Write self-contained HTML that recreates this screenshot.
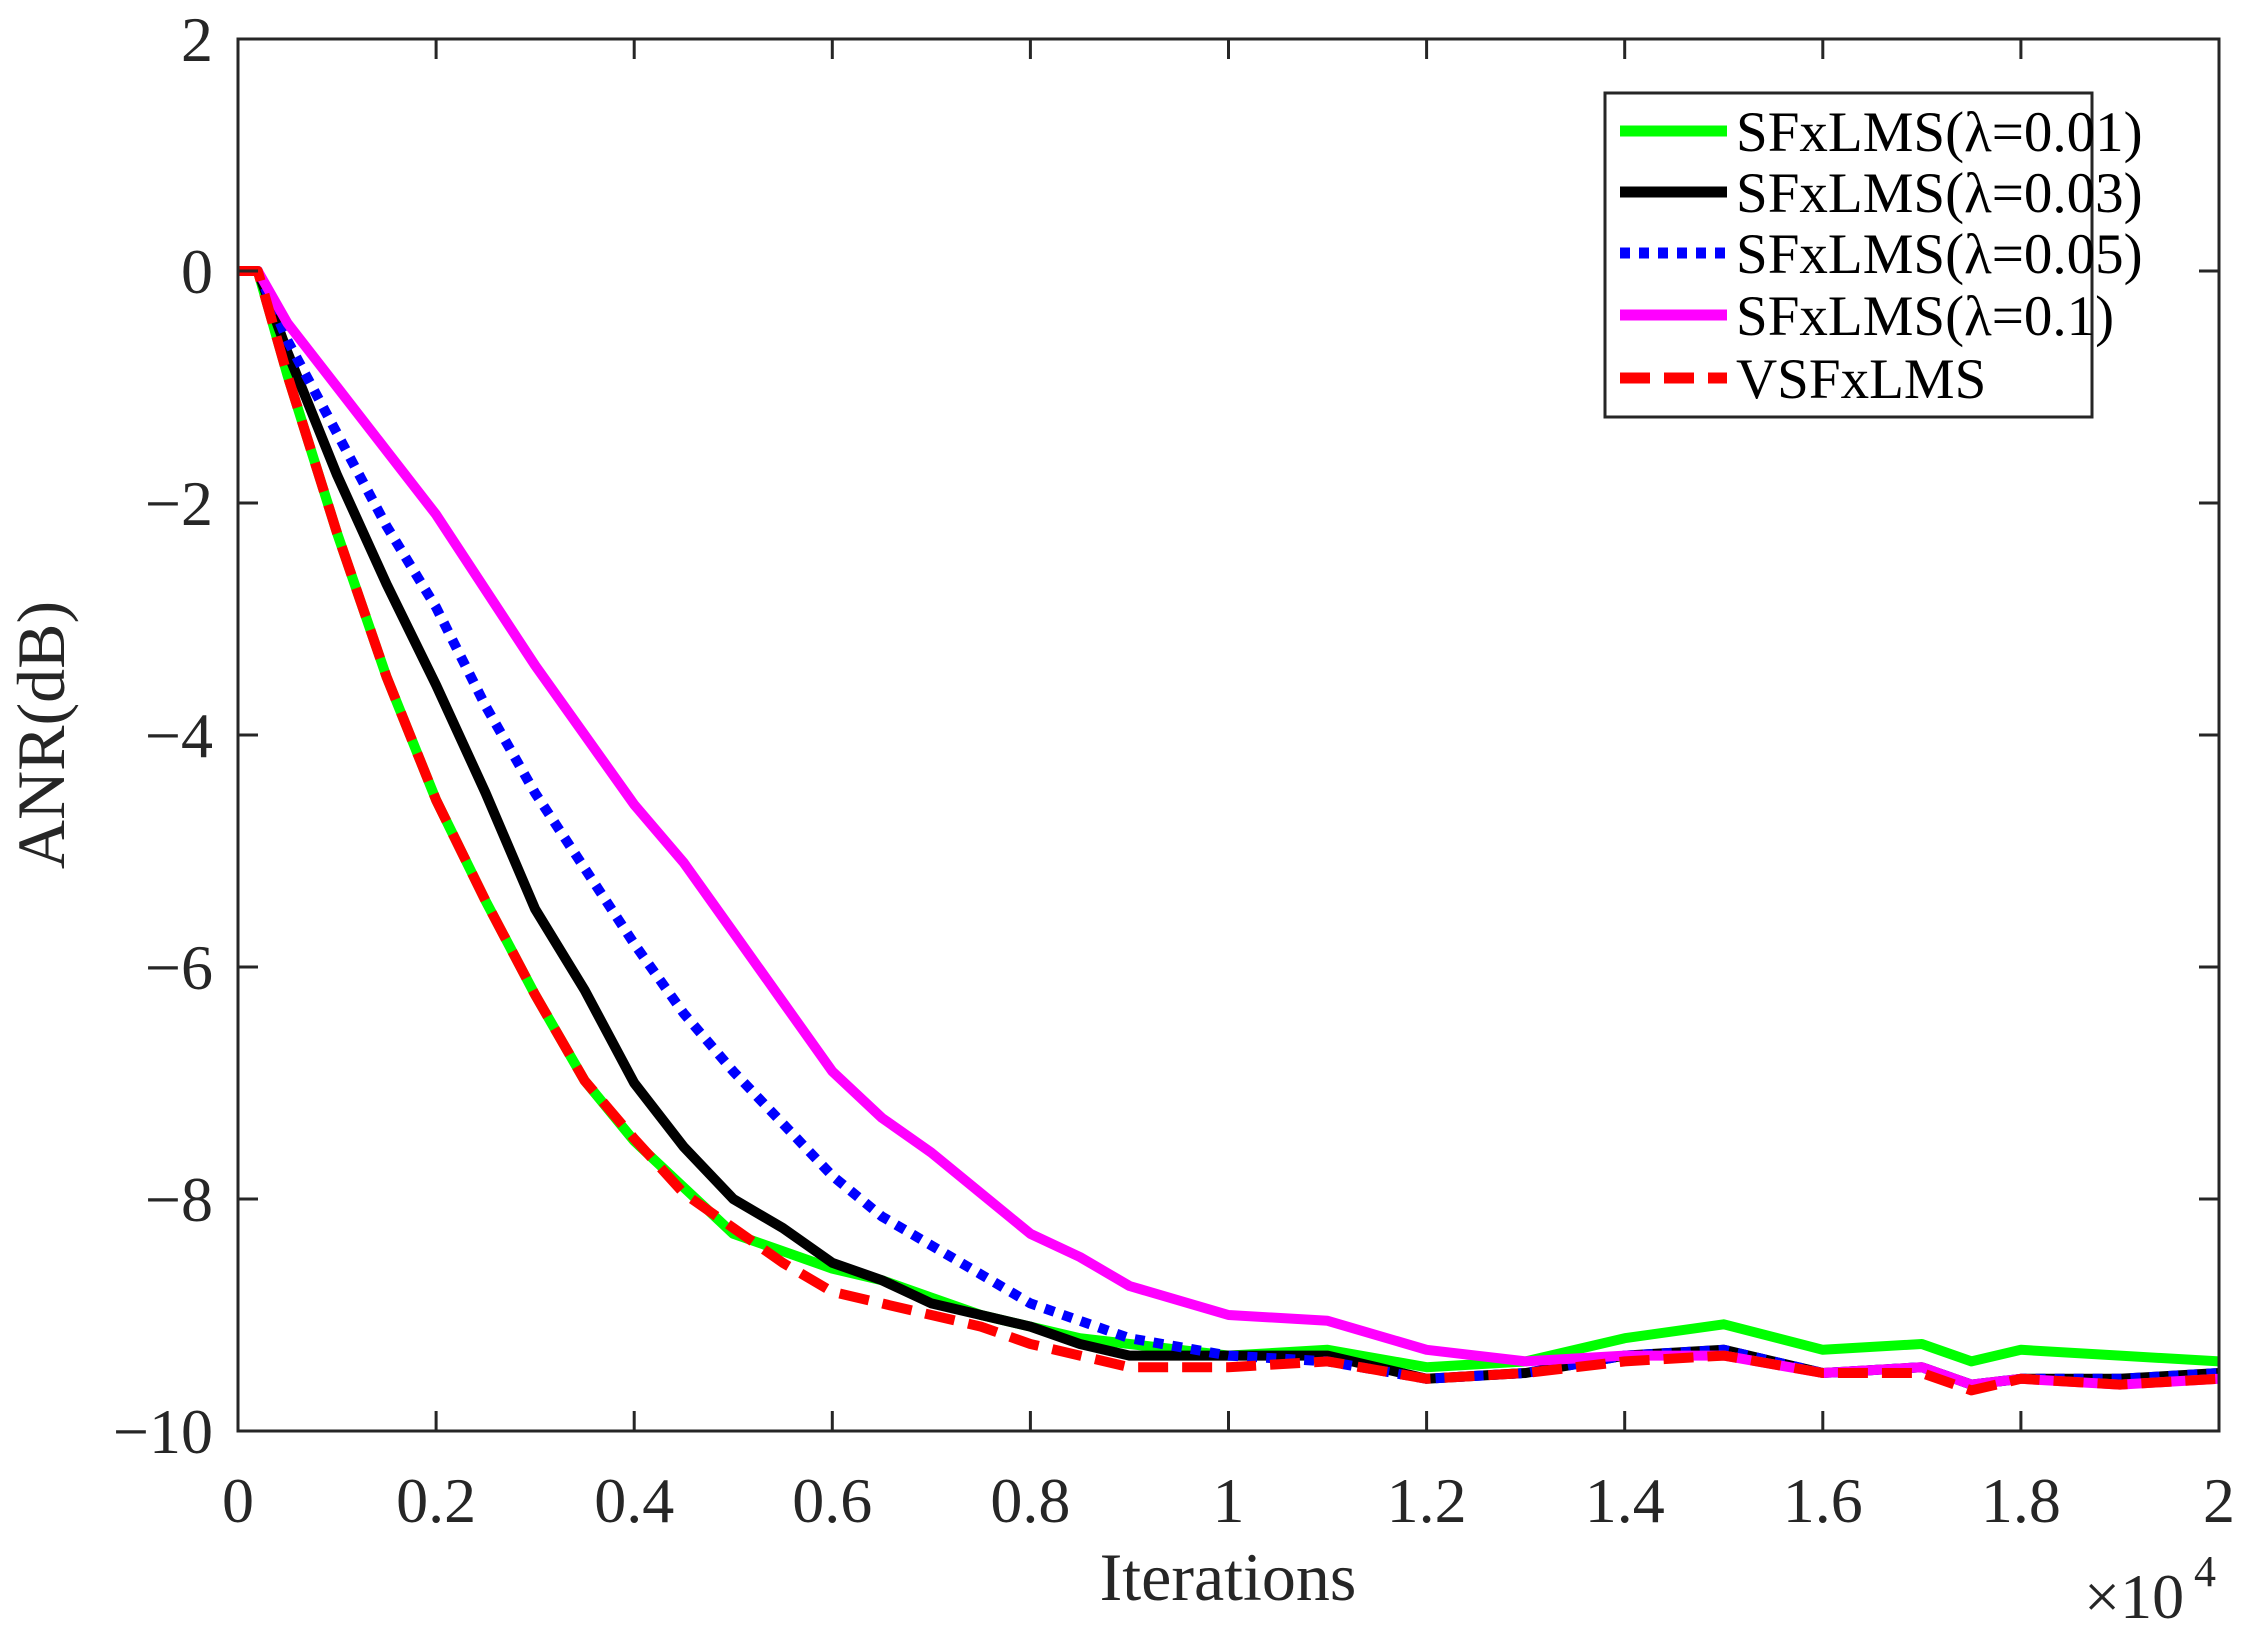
<!DOCTYPE html>
<html><head><meta charset="utf-8"><style>
body{margin:0;background:#fff}
svg text{font-family:"Liberation Serif",serif;fill:#262626}
</style></head><body>
<svg id="chart" width="2259" height="1640" viewBox="0 0 2259 1640">
<g id="plot"></g>
</svg>
<script>
const xTicks=[0,0.2,0.4,0.6,0.8,1,1.2,1.4,1.6,1.8,2];
const xTickLabels=["0","0.2","0.4","0.6","0.8","1","1.2","1.4","1.6","1.8","2"];
const yTicks=[2,0,-2,-4,-6,-8,-10];
const yTickLabels=["2","0","\u22122","\u22124","\u22126","\u22128","\u221210"];
const xs=[0,0.02,0.05,0.1,0.15,0.2,0.25,0.3,0.35,0.4,0.45,0.5,0.55,0.6,0.65,0.7,0.75,0.8,0.85,0.9,1.0,1.1,1.2,1.3,1.4,1.5,1.6,1.7,1.75,1.8,1.9,2.0];
const green=[0,0,-0.9,-2.26,-3.5,-4.56,-5.43,-6.24,-6.98,-7.5,-7.9,-8.3,-8.45,-8.6,-8.7,-8.85,-9.0,-9.1,-9.2,-9.25,-9.35,-9.3,-9.45,-9.4,-9.2,-9.08,-9.3,-9.25,-9.4,-9.3,-9.35,-9.4];
const black=[0,0,-0.7,-1.76,-2.7,-3.57,-4.5,-5.5,-6.2,-7.0,-7.55,-8.0,-8.25,-8.55,-8.7,-8.9,-9.0,-9.1,-9.25,-9.35,-9.35,-9.35,-9.55,-9.5,-9.35,-9.3,-9.5,-9.45,-9.6,-9.55,-9.55,-9.5];
const blue=[0,0,-0.6,-1.4,-2.2,-2.9,-3.75,-4.5,-5.15,-5.8,-6.4,-6.9,-7.35,-7.8,-8.15,-8.4,-8.65,-8.9,-9.05,-9.2,-9.35,-9.4,-9.55,-9.5,-9.35,-9.3,-9.5,-9.45,-9.6,-9.55,-9.55,-9.5];
const magenta=[0,0,-0.45,-1.0,-1.55,-2.1,-2.75,-3.4,-4.0,-4.6,-5.1,-5.7,-6.3,-6.9,-7.3,-7.6,-7.95,-8.3,-8.5,-8.75,-9.0,-9.05,-9.3,-9.4,-9.35,-9.35,-9.5,-9.45,-9.6,-9.55,-9.6,-9.55];
const red=[0,0,-0.9,-2.26,-3.5,-4.56,-5.43,-6.24,-6.98,-7.48,-7.95,-8.25,-8.55,-8.8,-8.9,-9.0,-9.1,-9.25,-9.35,-9.45,-9.45,-9.4,-9.55,-9.5,-9.4,-9.35,-9.5,-9.5,-9.65,-9.55,-9.6,-9.55];
const legendLabels=["SFxLMS(\u03bb=0.01)","SFxLMS(\u03bb=0.03)","SFxLMS(\u03bb=0.05)","SFxLMS(\u03bb=0.1)","VSFxLMS"];

const L=238,R=2219,T=39,B=1431;
const sx=v=>L+(v-0)/(2-0)*(R-L);
const sy=v=>T+(2-v)/(12)*(B-T);
const NS="http://www.w3.org/2000/svg";
const g=document.getElementById('plot');
function mk(tag,attrs,parent){const e=document.createElementNS(NS,tag);for(const k in attrs)e.setAttribute(k,attrs[k]);(parent||g).appendChild(e);return e;}

const series=[
 {d:green,c:"#00ff00",dash:"",name:"series-lambda-001"},
 {d:black,c:"#000000",dash:"",name:"series-lambda-003"},
 {d:blue,c:"#0000ff",dash:"10 9",name:"series-lambda-005"},
 {d:magenta,c:"#ff00ff",dash:"",name:"series-lambda-01"},
 {d:red,c:"#ff0000",dash:"30 14",name:"series-vsfxlms"}
];
series.forEach(s=>{
 const pts=xs.map((x,i)=>sx(x).toFixed(1)+","+sy(s.d[i]).toFixed(1)).join(" ");
 const p=mk('polyline',{points:pts,fill:"none",stroke:s.c,"stroke-width":10,"stroke-linejoin":"round","stroke-dasharray":s.dash});
 
 
});

const box=mk('rect',{x:L,y:T,width:R-L,height:B-T,fill:"none",stroke:"#262626","stroke-width":3});


xTicks.forEach((v,i)=>{
 const x=sx(v);
 mk('line',{x1:x,y1:B,x2:x,y2:B-20,stroke:"#262626","stroke-width":3});
 mk('line',{x1:x,y1:T,x2:x,y2:T+20,stroke:"#262626","stroke-width":3});
 const t=mk('text',{x:x,y:1522,"text-anchor":"middle","font-size":64});
 t.textContent=xTickLabels[i];
 
 
});
yTicks.forEach((v,i)=>{
 const y=sy(v);
 mk('line',{x1:L,y1:y,x2:L+20,y2:y,stroke:"#262626","stroke-width":3});
 mk('line',{x1:R,y1:y,x2:R-20,y2:y,stroke:"#262626","stroke-width":3});
 const t=mk('text',{x:213,y:y+22,"text-anchor":"end","font-size":64});
 t.textContent=yTickLabels[i];
 
 
});
let t=mk('text',{x:1228,y:1600,"text-anchor":"middle","font-size":68});
t.textContent="Iterations";


t=mk('text',{x:0,y:0,"text-anchor":"middle","font-size":68,transform:"translate(64,735) rotate(-90)"});
t.textContent="ANR(dB)";


t=mk('text',{x:2084,y:1618,"font-size":64});
t.textContent="\u00d710";


t=mk('text',{x:2194,y:1586,"font-size":44});
t.textContent="4";



const lg=mk('g',{});


mk('rect',{x:1605,y:93,width:487,height:324,fill:"#fff",stroke:"#262626","stroke-width":3},lg);
const rowsY=[131,192,253,315,378];
series.forEach((s,i)=>{
 const e=mk('g',{},lg);
 
 
 mk('line',{x1:1620,y1:rowsY[i],x2:1727,y2:rowsY[i],stroke:s.c,"stroke-width":11,"stroke-dasharray":s.dash},e);
 const tx=mk('text',{x:1736,y:rowsY[i]+20,"font-size":57,style:"fill:#000"},e);
 tx.textContent=legendLabels[i];
});
</script>
</body></html>
